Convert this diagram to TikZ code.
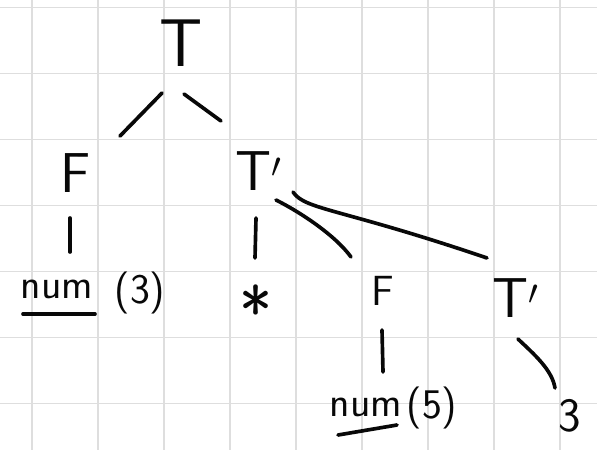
\documentclass[tikz,border=0pt]{standalone}
\usetikzlibrary{positioning}
\definecolor{GradeCinza}{RGB}{222,222,222}
\definecolor{Tinta}{RGB}{8,8,8}
\tikzset{
  simbolo/.style={font=\sffamily\fontsize{40}{40}\selectfont, text=Tinta, inner sep=0pt},
  folha/.style={font=\sffamily\fontsize{30}{30}\selectfont, text=Tinta, inner sep=0pt},
  ramo/.style={draw=Tinta, line width=2.6pt, line cap=round},
  grade/.style={draw=GradeCinza, line width=1.4pt},
}
\begin{document}
\begin{tikzpicture}[x=0.025cm, y=-0.025cm]
  \useasboundingbox (0,0) rectangle (597,450);
  % Papel quadriculado
  \foreach \gx in {32,98,...,560} \draw[grade] (\gx,0) -- (\gx,450);
  \foreach \gy in {7.5,73.5,...,403.5} \draw[grade] (0,\gy) -- (597,\gy);

  % Simbolos da arvore
  \node[simbolo, font=\sffamily\fontsize{48}{48}\selectfont] (raiz) at (181,43) {T};
  \node[simbolo] (f1) at (76,173) {F};
  \node[simbolo] (tl1) at (259,171) {T$'$};
  \node[folha] (num3) at (57,289) {num};
  \node[folha] (arg3) at (140,293) {(3)};
  \node[simbolo, font=\sffamily\fontsize{50}{50}\selectfont] (vezes) at (256,311) {*};
  \node[simbolo, font=\sffamily\fontsize{30}{30}\selectfont] (f2) at (383,291) {F};
  \node[folha] (num5) at (366,407) {num};
  \node[folha] (arg5) at (432,408) {(5)};
  \node[simbolo] (tl2) at (516,298) {T$'$};
  \node[simbolo, font=\sffamily\fontsize{34}{34}\selectfont] (eps) at (570,416) {3};

  % Sublinhado dos tokens
  \draw[ramo] ([shift={(-34,25)}]num3.center) -- ([shift={(38,25)}]num3.center);
  \draw[ramo] ([shift={(-28,28)}]num5.center) -- ([shift={(31,18)}]num5.center);

  % Ramos
  \draw[ramo] ([shift={(-19,50)}]raiz.center) -- ([shift={(44,-37)}]f1.center);
  \draw[ramo] ([shift={(3,51)}]raiz.center) -- ([shift={(-38,-50)}]tl1.center);
  \draw[ramo] ([shift={(-6,45)}]f1.center) -- ([shift={(13,-37)}]num3.center);
  \draw[ramo] ([shift={(-3,47)}]tl1.center) -- ([shift={(-1,-53)}]vezes.center);
  \draw[ramo] ([shift={(17,29)}]tl1.center)
    .. controls ([shift={(41,41)}]tl1.center) and ([shift={(-48,-56)}]f2.center)
    .. ([shift={(-32,-34)}]f2.center);
  \draw[ramo] ([shift={(34,21)}]tl1.center)
    .. controls ([shift={(46,39)}]tl1.center) and ([shift={(-176,-90)}]tl2.center)
    .. ([shift={(-29,-40)}]tl2.center);
  \draw[ramo] ([shift={(-1,39)}]f2.center) -- ([shift={(17,-35)}]num5.center);
  \draw[ramo] ([shift={(2,41)}]tl2.center)
    .. controls ([shift={(19,57)}]tl2.center) and ([shift={(-18,-46)}]eps.center)
    .. ([shift={(-15,-28)}]eps.center);
\end{tikzpicture}
\end{document}
